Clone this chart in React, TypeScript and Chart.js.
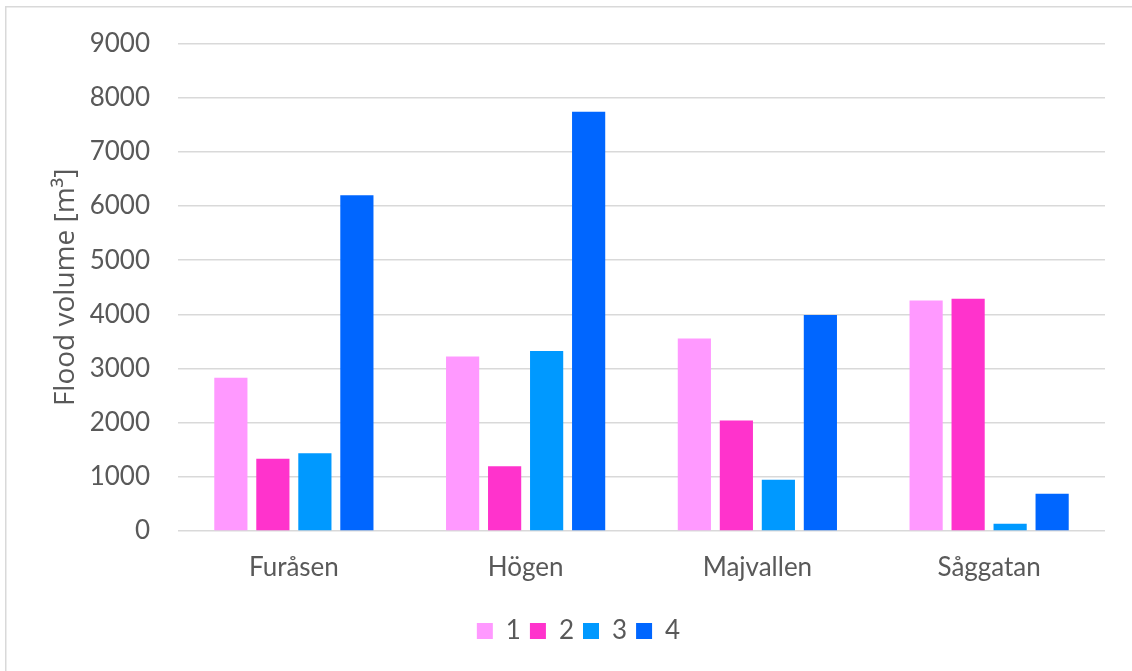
import React, { useEffect, useRef } from "react";
import { Chart, registerables } from "chart.js";

Chart.register(...registerables);

const categories = ["Furåsen", "Högen", "Majvallen", "Såggatan"];
const seriesNames = ["1", "2", "3", "4"];
const series1 = [2830, 3220, 3555, 4255];
const series2 = [1335, 1195, 2040, 4290];
const series3 = [1435, 3325, 945, 135];
const series4 = [6200, 7740, 3990, 690];
const seriesColors = ["#FF99FF", "#FF33CC", "#0099FF", "#0066FF"];
const yMin = 0;
const yMax = 9000;
const yStep = 1000;
const yTitle = "Flood volume [m³]";

const W = 1132;
const H = 671;
const TEXT = "#595959";
const GRID = "#d9d9d9";
const FONT = "Lato, 'Open Sans', sans-serif";
const TITLE_FONT = "'Open Sans', Lato, sans-serif";
const FS = 26;

const framePlugin = {
  id: "frame",
  beforeDraw(chart: any) {
    const ctx = chart.ctx;
    ctx.save();
    ctx.fillStyle = "#ffffff";
    ctx.fillRect(0, 0, chart.width, chart.height);
    ctx.strokeStyle = GRID;
    ctx.lineWidth = 1.5;
    ctx.beginPath();
    ctx.moveTo(5.75, chart.height + 5);
    ctx.lineTo(5.75, 6.75);
    ctx.lineTo(chart.width + 5, 6.75);
    ctx.stroke();
    ctx.restore();
  },
};

export default function App() {
  const ref = useRef<HTMLCanvasElement | null>(null);

  useEffect(() => {
    document.body.style.margin = "0";
    if (!ref.current) return;
    const data = [series1, series2, series3, series4];
    const chart = new Chart(ref.current, {
      type: "bar",
      data: {
        labels: categories,
        datasets: seriesNames.map((name, i) => ({
          label: name,
          data: data[i],
          backgroundColor: seriesColors[i],
          borderWidth: 0,
          barPercentage: 0.79,
          categoryPercentage: 0.725,
        })),
      },
      options: {
        responsive: false,
        animation: false,
        devicePixelRatio: 1,
        layout: { padding: { top: 28, right: 27, bottom: 17, left: 52 } },
        plugins: {
          legend: {
            position: "bottom",
            labels: {
              color: TEXT,
              font: { family: FONT, size: FS },
              boxWidth: 16,
              boxHeight: 16,
              padding: 9,
            },
          },
          tooltip: { enabled: false },
        },
        scales: {
          x: {
            grid: { display: false },
            border: { display: false },
            ticks: { color: TEXT, font: { family: FONT, size: FS }, padding: 13 },
            afterFit(scale: any) {
              scale.height = 78;
            },
          },
          y: {
            min: yMin,
            max: yMax,
            ticks: {
              stepSize: yStep,
              color: TEXT,
              font: { family: FONT, size: FS },
              padding: 28,
              callback: (v: any) => String(v),
            },
            grid: { color: GRID, lineWidth: 1.5, drawTicks: false },
            border: { display: false },
            title: {
              display: true,
              text: yTitle,
              color: TEXT,
              font: { family: TITLE_FONT, size: 28, lineHeight: 1 },
              padding: { top: 0, bottom: 0 },
            },
            afterFit(scale: any) {
              scale.width = 126;
            },
          },
        },
      },
      plugins: [framePlugin],
    });
    return () => chart.destroy();
  }, []);

  return (
    <div style={{ width: W, height: H, overflow: "hidden" }}>
      <canvas ref={ref} width={W} height={H} style={{ width: W, height: H, display: "block" }} />
    </div>
  );
}
